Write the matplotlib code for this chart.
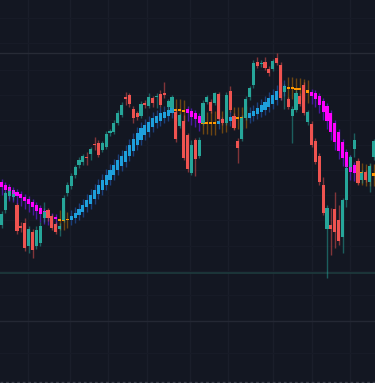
import matplotlib
matplotlib.use("Agg")
import matplotlib.pyplot as plt
import numpy as np

# price candles
opens = [158, 173, 187, 186, 178, 157, 160, 137, 151, 137, 140, 165, 173, 167, 159, 154, 163, 190, 197, 208,
         218, 221, 226, 229, 239, 240, 233, 236, 250, 251, 260, 268, 286, 288, 274, 270, 267, 280, 277, 285,
         286, 289, 290, 276, 275, 271, 257, 262, 248, 210, 243, 227, 260, 281, 281, 280, 289, 264, 260, 292,
         267, 242, 244, 265, 286, 298, 321, 319, 321, 314, 314, 325, 318, 291, 284, 267, 273, 287, 298, 261,
         259, 242, 227, 198, 154, 158, 174, 163, 146, 183, 216, 234, 222, 203, 211, 201, 226]
highs = [172, 192, 195, 193, 180, 161, 165, 157, 154, 157, 161, 181, 175, 169, 161, 160, 188, 201, 210, 218,
         226, 229, 231, 236, 246, 243, 242, 252, 254, 263, 273, 281, 291, 290, 277, 272, 282, 283, 290, 287,
         290, 293, 301, 284, 288, 274, 270, 268, 250, 243, 245, 246, 283, 288, 284, 291, 291, 266, 291, 297,
         270, 245, 268, 287, 297, 323, 326, 323, 326, 317, 324, 330, 321, 299, 286, 277, 293, 290, 301, 273,
         262, 245, 230, 206, 178, 175, 191, 178, 185, 218, 228, 250, 225, 213, 213, 220, 244]
lows = [155, 170, 184, 183, 149, 151, 132, 130, 125, 134, 137, 161, 162, 153, 149, 147, 161, 187, 194, 205,
        215, 218, 218, 223, 233, 226, 231, 234, 247, 249, 258, 266, 278, 276, 260, 263, 265, 275, 275, 276,
        275, 276, 285, 273, 271, 241, 255, 223, 211, 208, 207, 225, 258, 279, 270, 278, 262, 258, 258, 271,
        253, 220, 242, 263, 283, 295, 315, 316, 313, 307, 312, 318, 283, 274, 274, 240, 271, 277, 268, 258,
        236, 219, 198, 168, 105, 128, 135, 138, 130, 176, 213, 226, 198, 200, 201, 191, 223]
closes = [169, 190, 192, 189, 152, 155, 135, 154, 133, 153, 157, 171, 165, 155, 151, 157, 185, 198, 207, 216,
          223, 227, 225, 234, 238, 228, 240, 249, 252, 260, 270, 278, 284, 279, 265, 266, 279, 278, 286, 280,
          287, 278, 288, 282, 286, 244, 268, 225, 214, 238, 224, 243, 280, 286, 272, 290, 264, 260, 288, 273,
          255, 235, 265, 284, 295, 320, 317, 320, 315, 310, 322, 320, 285, 296, 276, 274, 290, 279, 270, 271,
          238, 221, 201, 170, 175, 154, 151, 142, 183, 215, 226, 243, 200, 210, 203, 217, 242]

# moving-average candles
ma_open = [201, 198, 196, 193, 191, 189, 186, 184, 181, 178, 175, 172, 169, 167, 166, 164, 164, 163, 163, 165,
           168, 171, 176, 179, 184, 189, 193, 198, 203, 208, 213, 217, 221, 227, 232, 238, 243, 248, 251, 256,
           260, 262, 265, 267, 270, 274, 274, 273, 274, 272, 270, 267, 262, 261, 261, 261, 259, 262, 263, 262,
           266, 266, 266, 267, 265, 267, 269, 271, 273, 276, 279, 283, 288, 292, 296, 296, 295, 295, 294, 293,
           291, 290, 287, 282, 277, 270, 260, 251, 241, 231, 225, 218, 212, 211, 210, 210, 210]
ma_close = [196, 193, 190, 189, 187, 185, 182, 179, 176, 172, 169, 167, 166, 165, 164, 162.5, 162.5, 164.5, 167, 170,
            174, 178, 183, 188, 193, 198, 203, 208, 213, 218, 223, 227, 232, 238, 244, 250, 255, 258, 261, 265,
            267, 270, 271, 273, 275, 272, 272, 271, 270, 266, 264, 260, 259, 259, 259, 259, 262, 260, 261, 266,
            264, 264, 264, 265, 270, 272, 275, 278, 281, 285, 288, 292, 295, 297, 294, 294, 293, 293, 292, 290,
            287, 284, 278, 271, 262, 251, 241, 232, 225, 216, 211, 210, 209, 208, 207, 207, 207]
ma_high = [204, 201, 199, 196, 194, 192, 189, 187, 184, 181, 178, 175, 172, 170, 169, 173, 173, 171, 173, 176,
           180, 184, 189, 194, 199, 204, 209, 214, 219, 224, 229, 233, 238, 244, 250, 256, 261, 264, 267, 271,
           273, 276, 277, 279, 281, 284, 284, 283, 277, 275, 273, 270, 272, 271, 272, 272, 268, 272, 273, 272,
           276, 276, 276, 277, 276, 278, 281, 284, 287, 291, 294, 298, 301, 303, 306, 306, 305, 305, 304, 303,
           294, 293, 290, 285, 280, 273, 263, 254, 244, 234, 228, 221, 221, 220, 219, 219, 219]
ma_low = [188, 185, 182, 181, 179, 177, 174, 171, 168, 164, 161, 159, 158, 157, 156, 153, 153, 155, 158, 160,
          163, 166, 171, 174, 179, 184, 188, 193, 198, 203, 208, 212, 216, 222, 227, 233, 238, 243, 246, 251,
          255, 257, 260, 262, 265, 262, 262, 261, 262, 258, 256, 252, 249, 249, 248, 248, 254, 250, 251, 257,
          254, 254, 254, 255, 260, 262, 264, 266, 268, 271, 274, 278, 283, 287, 284, 284, 283, 283, 282, 280,
          279, 276, 270, 263, 254, 243, 233, 224, 217, 208, 203, 202, 199, 198, 197, 197, 197]
# B = rising, M = falling, O = flat
ma_trend = "MMMMMMMMMMMMMMMOOOBBBBBBBBBBBBBBBBBBBBBBBBBBBOOOMMMMOOOOBOOBOOOOBBBBBBBBBBOOOOOOMMMMMMMMMMMMOOOOO"

grid_x = [6.8, 17.7, 27.5, 37.5, 48.6, 58.4, 70.1, 80.1, 89.9]
grid_y = [30, 62, 88, 112, 137, 163, 188, 213, 238, 263, 288, 313, 340, 365]
level_lines = [330, 110, 62]

bg = "#131722"
up_col, dn_col = "#26a69a", "#ef5350"
ma_cols = {"B": "#1e9fdc", "M": "#ff00ff", "O": "#ff9800"}
ma_wick = {"B": "#1c3f7a", "M": "#4a1aa0", "O": "#6e4612"}

fig = plt.figure(figsize=(3.75, 3.83), dpi=100, facecolor=bg)
ax = fig.add_axes([0, 0, 1, 1], facecolor=bg)

idx = np.arange(len(opens))

for gx in grid_x:
    ax.axvline(gx, color="#1a1e2a", lw=1, zorder=0)
for gy in grid_y:
    ax.axhline(gy, color="#171b27", lw=1, zorder=0)
ax.axhline(level_lines[0], color="#272b36", lw=1, zorder=0)
ax.axhline(level_lines[1], color="#1d3a3d", lw=1.2, zorder=0)
ax.axhline(level_lines[2], color="#242834", lw=1, zorder=0)
ax.axhline(1, color="#3a3e4a", lw=1, ls=(0, (2, 2)), zorder=0)

# MA candles
for i in idx:
    t = ma_trend[i]
    ax.vlines(i, ma_low[i], ma_high[i], color=ma_wick[t], lw=1, zorder=1)
    lo = min(ma_open[i], ma_close[i])
    h = max(abs(ma_close[i] - ma_open[i]), 1.2)
    ax.bar(i, h, bottom=lo, width=0.78, color=ma_cols[t], linewidth=0, zorder=2)

# price candles
for i in idx:
    up = closes[i] >= opens[i]
    c = up_col if up else dn_col
    ax.vlines(i, lows[i], highs[i], color=c, alpha=0.5, lw=1, zorder=3)
    lo = min(opens[i], closes[i])
    h = max(abs(closes[i] - opens[i]), 1.2)
    ax.bar(i, h, bottom=lo, width=0.78, color=c, linewidth=0, zorder=4)

ax.set_xlim(-1.5 / 3.875, (375 - 1.5) / 3.875)
ax.set_ylim(0, 383)
ax.axis("off")

fig.savefig("out.png", dpi=100, facecolor=bg)
